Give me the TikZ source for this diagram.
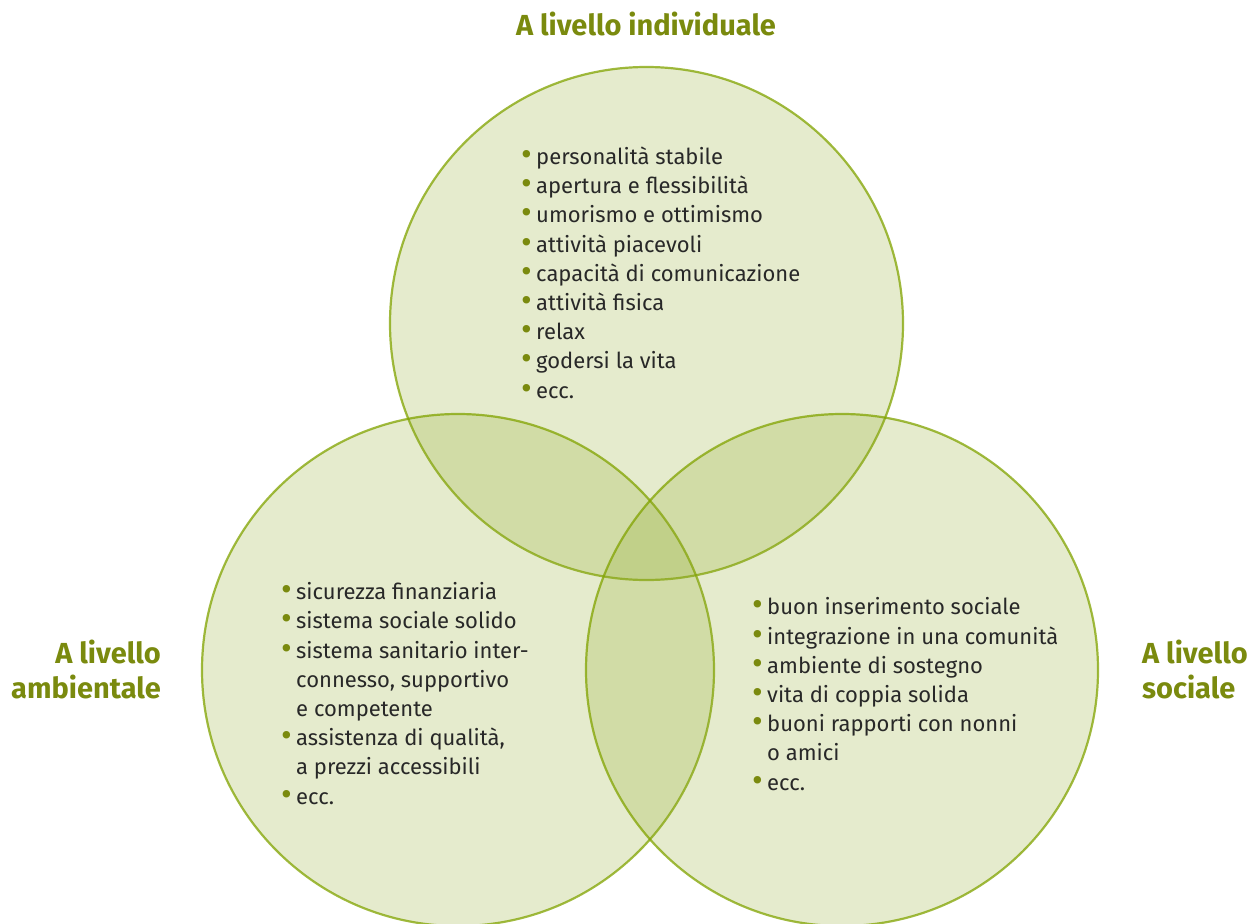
\documentclass[tikz,border=0pt]{standalone}
\usepackage{fontspec}
\setmainfont{Fira Sans}
\definecolor{circfill}{RGB}{142,168,38}
\definecolor{circline}{RGB}{129,163,0}
\definecolor{olivec}{RGB}{122,138,14}
\definecolor{textc}{RGB}{40,40,40}
\newcommand\bl{\makebox[15pt][l]{\textcolor{olivec}{\raisebox{-1pt}{\scalebox{1.5}{•}}}}}
\newcommand\ind{\hspace*{15pt}}
\tikzset{
  venn/.style={fill=circfill, fill opacity=0.23, draw=circline, draw opacity=0.75, line width=2.2pt},
  listtext/.style={anchor=base west, align=left, inner sep=0pt, text=textc, font=\fontsize{22}{29.2}\selectfont},
  title/.style={inner sep=0pt, text=olivec, font=\bfseries\fontsize{29}{35}\selectfont}
}
\begin{document}
\begin{tikzpicture}[x=1pt,y=-1pt]
\useasboundingbox (0,0) rectangle (1252,923);
\begin{scope}
\clip (0,0) rectangle (1252,923);
\path[venn] (646.5,323.5) circle (256.5);
\path[venn] (458,670) circle (256);
\path[venn] (842,670) circle (256);
\end{scope}
\node[title, anchor=base] (tind) at (646,36) {A livello individuale};
\node[title, anchor=base east, align=right] (tamb) at (161,698) {A livello\\ambientale};
\node[title, anchor=base west, align=left] (tsoc) at (1142,698) {A livello\\sociale};
\node[listtext] (lind) at (521,398) {\bl personalità stabile\\\bl apertura e flessibilità\\\bl umorismo e ottimismo\\\bl attività piacevoli\\\bl capacità di comunicazione\\\bl attività fisica\\\bl relax\\\bl godersi la vita\\\bl ecc.};
\node[listtext] (lamb) at (281,804) {\bl sicurezza finanziaria\\\bl sistema sociale solido\\\bl sistema sanitario inter-\\\ind connesso, supportivo\\\ind e competente\\\bl assistenza di qualità,\\\ind a prezzi accessibili\\\bl ecc.};
\node[listtext] (lsoc) at (752,790) {\bl buon inserimento sociale\\\bl integrazione in una comunità\\\bl ambiente di sostegno\\\bl vita di coppia solida\\\bl buoni rapporti con nonni\\\ind o amici\\\bl ecc.};
\end{tikzpicture}
\end{document}
